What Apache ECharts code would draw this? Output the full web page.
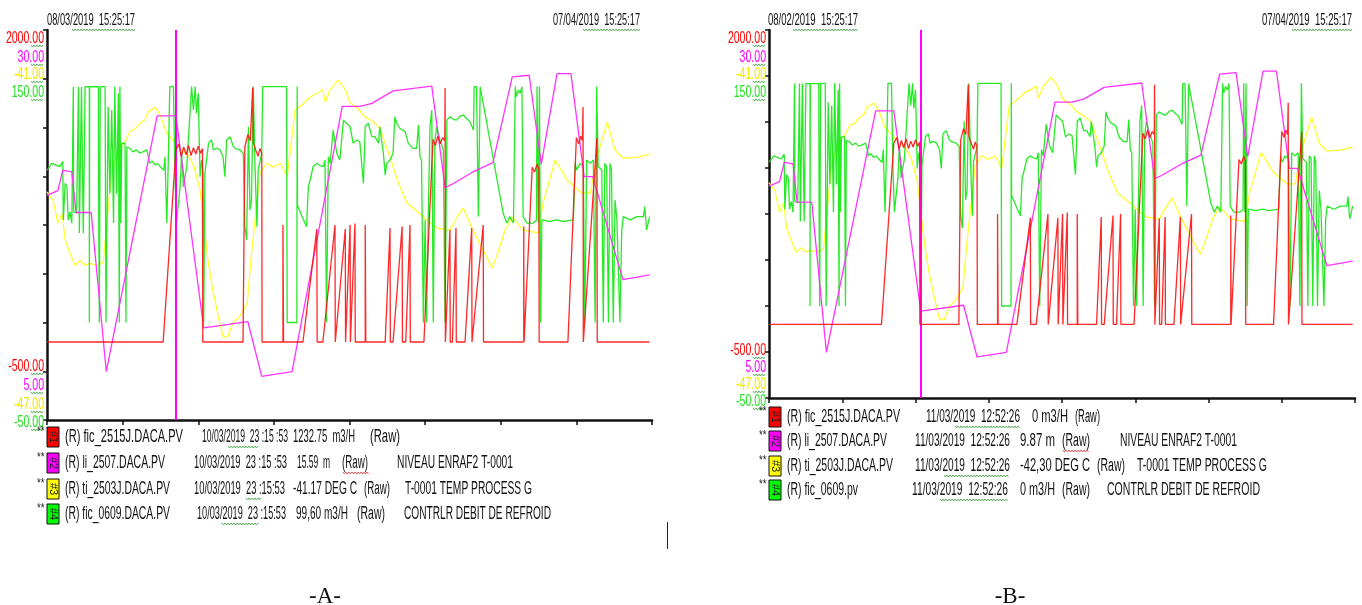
<!DOCTYPE html>
<html>
<head>
<meta charset="utf-8">
<script src="https://cdn.jsdelivr.net/npm/echarts@6.0.0/dist/echarts.min.js"></script>
<style>
  html, body { margin: 0; padding: 0; background: #ffffff; }
  #chart { width: 1362px; height: 605px; }
</style>
</head>
<body>
<div id="chart"></div>
<script>
// ---- Trend recorder data (x = % of the 30-day window, y in engineering units) ----

// scale limits of each pen (red, magenta, yellow, green)
const scaleMin = [-500, 5, -47, -50];
const scaleMax = [2000, 30, -41, 150];
const scaleTopLabels = ['2000.00', '30.00', '-41.00', '150.00'];
const scaleBottomLabels = ['-500.00', '5.00', '-47.00', '-50.00'];

// window start / end stamps
const windowA = ['08/03/2019  15:25:17', '07/04/2019  15:25:17'];
const windowB = ['08/02/2019  15:25:17', '07/04/2019  15:25:17'];

// cursor positions (% of window)
const cursorA = 21.3;
const cursorB = 25.9;

// #1 fic_2515J.DACA.PV  (m3/H)
const fic2515 = [
  [0,0],[19.2,0],[21.3,1232],[21.8,1270],[22.2,1190],[22.6,1250],[23.0,1200],[23.4,1260],[23.8,1195],
  [24.2,1245],[24.6,1205],[25.0,1255],[25.4,1210],[25.7,1240],[25.75,0],
  [32.4,0],[32.7,1250],[33.2,1330],[33.6,1290],[34.0,1630],[34.1,1280],[34.5,1230],[34.9,1190],
  [35.2,1240],[35.5,1210],[35.55,0],
  [39.0,0],[39.0,750],[39.1,0],
  [42.3,0],[44.6,724],[44.65,0],[45.6,0],[47.6,750],[47.65,0],[47.9,0],[49.3,724],[49.35,0],
  [49.6,0],[50.1,750],[50.15,0],[50.3,0],[50.9,760],[50.95,0],
  [52.6,0],[52.6,750],[52.7,0],
  [55.9,0],[56.7,730],[56.75,0],[57.2,0],[58.7,740],[58.75,0],[59.3,0],[60.0,750],[60.05,0],
  [62.3,0],[63.8,1300],[64.2,1260],[64.6,1320],[65.0,1270],[65.4,1310],[65.75,1290],[65.8,1628],[65.85,0],
  [66.6,720],[66.65,0],[67.0,0],[67.6,730],[67.65,0],[69.1,0],[70.2,730],[70.25,0],[70.4,0],[72.1,750],[72.15,0],
  [78.8,0],[78.8,740],[78.85,0],[79.1,0],[80.2,1120],[80.6,1090],[81.0,1140],[81.3,1110],[81.35,0],
  [86.1,0],[87.5,1310],[87.9,1270],[88.2,1320],[88.5,1290],[88.6,1506],[88.65,0],[90.9,1308],[90.95,0],[99.6,0]
];

// #2 li_2507.DACA.PV  (m)
const li2507 = [
  [0,19.4],[1.8,19.7],[2.6,21.0],[4.1,20.9],[4.8,18.3],[7.3,18.3],[9.8,8.1],[18.2,24.5],[21.3,24.5],
  [25.9,10.9],[33.2,11.3],[35.5,7.8],[40.5,8.1],[48.8,25.1],[51.7,25.1],[53.7,25.3],[57.2,26.1],
  [63.6,26.4],[65.8,19.9],[66.9,20.1],[70.4,20.9],[73.7,21.5],[76.9,27.0],[79.7,27.1],[81.7,21.4],
  [84.3,27.2],[86.6,27.2],[88.8,20.6],[90.2,20.6],[95.2,14.0],[99.6,14.3]
];

// #3 ti_2503J.DACA.PV  (DEG C)
const ti2503 = [
  [0,-43.49],[1.0,-43.62],[1.8,-43.97],[2.5,-43.82],[3.0,-44.23],[3.8,-44.43],[4.6,-44.62],[5.5,-44.55],
  [6.3,-44.62],[7.1,-44.59],[8.2,-44.62],[9.3,-44.57],[10.7,-43.15],[12.1,-42.80],[13.0,-42.70],
  [13.8,-42.55],[14.6,-42.52],[15.4,-42.43],[16.2,-42.38],[16.7,-42.26],[17.9,-42.19],[18.7,-42.31],
  [19.8,-42.59],[21.5,-42.77],[22.5,-42.85],[23.5,-42.95],[24.3,-43.10],[25.3,-43.46],[26.6,-44.54],
  [27.4,-45.00],[28.3,-45.40],[29.1,-45.72],[29.9,-45.72],[30.7,-45.51],[31.9,-45.40],[33.1,-45.20],
  [33.7,-44.54],[35.2,-43.20],[36.3,-43.05],[37.4,-43.11],[38.6,-43.05],[39.7,-43.26],[41.0,-42.23],
  [42.2,-42.15],[43.5,-42.03],[44.5,-41.98],[45.6,-41.92],[46.0,-42.11],[46.8,-41.92],[48.1,-41.77],
  [49.3,-41.92],[50.1,-42.12],[51.3,-42.20],[52.6,-42.34],[53.8,-42.40],[55.0,-42.51],[56.7,-42.96],
  [57.9,-43.31],[59.5,-43.66],[61.7,-43.83],[63.3,-43.97],[64.5,-44.05],[66.6,-44.08],[67.8,-43.88],
  [68.8,-43.74],[70.4,-44.08],[72.1,-44.39],[73.6,-44.66],[74.5,-44.43],[75.7,-44.08],[76.9,-43.88],
  [78.7,-44.08],[81.2,-44.12],[82.0,-43.66],[84.0,-43.00],[86.0,-43.31],[88.4,-43.51],[89.8,-43.51],
  [90.9,-42.96],[92.6,-42.42],[93.9,-42.85],[95.2,-42.97],[97.5,-42.96],[99.6,-42.91]
];

// #4 fic_0609.DACA.PV  (m3/H)
const fic0609 = [
  [0,78],[0.8,81.6],[2.1,79.9],[2.6,82.5],[2.7,52.6],[3.0,71.4],[3.3,69.6],[3.5,52.6],[3.8,56.8],[4.1,50.9],
  [4.35,120.9],[4.4,56.8],[4.9,56.1],[5.2,120.9],[5.35,45.9],[5.7,120.9],[6.0,45.9],[6.3,120.9],[7.0,120.9],
  [7.0,0],[7.05,120.9],[8.5,120.9],[8.55,56],[8.65,0],[8.8,121],[9.6,121],[9.75,0],[10.1,110.7],[10.4,66.3],
  [10.7,109],[11.0,51],[11.2,121],[11.5,66],[11.8,117.5],[11.95,0],[12.05,121],[12.2,51],[12.35,91.9],
  [12.9,92],[13.05,0],[13.2,90],[13.7,89.3],[14.2,87.5],[14.8,88.5],[15.3,86.9],[15.9,87.6],[16.5,88.5],
  [17.0,81.6],[17.4,82.8],[17.85,80.8],[18.3,81.5],[18.7,80],[19.3,78],[19.5,85],[19.8,51],[20.05,83.3],
  [20.3,121],[20.9,121],[21.15,74.8],[21.4,51],[22.0,69.6],[22.25,86.8],[22.55,69.6],[23.1,80],[23.9,121],
  [24.2,109],[24.5,121],[24.7,107.3],[25.0,117.5],[25.3,74.8],[25.55,83.3],[25.8,76.5],[25.9,0],[26.1,76.5],
  [26.7,92],[27.2,93.6],[27.5,88.5],[28.0,89.5],[28.6,88.5],[29.1,85],[29.4,74.8],[29.7,93.6],[30.25,95.3],
  [30.8,90.2],[31.3,89.0],[31.9,88.5],[32.45,86.8],[32.7,49.1],[33.0,42.3],[33.3,100.4],[33.55,57.7],
  [33.8,62.8],[34.1,121],[34.4,78.2],[34.7,49.1],[34.9,78.2],[35.5,86.8],[35.65,121],[39.6,121],[39.7,0],
  [41.3,0],[41.35,121],[41.4,60],[41.55,59.4],[42.4,52.6],[42.9,49.1],[43.2,69.6],[43.5,73.1],[44.0,80],
  [44.6,81.6],[45.2,80.4],[45.7,80],[45.95,83.3],[46.2,0],[46.5,85],[46.8,81.6],[47.3,98.7],[47.9,86.8],
  [48.4,83.3],[49.0,103.8],[49.5,102.2],[50.1,100.4],[50.6,92],[51.2,93.5],[51.7,92.7],[52.3,71.4],
  [52.6,100.4],[53.1,102.2],[53.7,95.3],[54.2,95.3],[54.8,92],[55.0,100.4],[55.6,86.8],[55.9,75.6],
  [56.15,81.6],[56.7,83.3],[57.2,86.8],[57.5,105.5],[57.8,102.2],[58.3,99.6],[59.2,97.9],[59.7,92],
  [60.0,92],[60.5,89.3],[61.1,89.3],[61.4,101.3],[61.65,85],[61.9,83.3],[62.2,0],[62.5,52.6],[62.75,0],
  [63.0,51],[63.3,100.4],[63.6,109],[63.85,0],[64.1,92],[64.4,100.4],[64.95,93.6],[65.5,88.5],[65.8,0],
  [66.1,103.8],[66.6,105.5],[67.2,104.2],[67.7,103.8],[68.3,105.8],[68.8,106.4],[69.4,104.5],[69.9,103],
  [70.5,98.7],[70.6,120.9],[71.0,120.9],[71.3,54.3],[71.6,120.9],[71.85,120.9],[75.4,56],[76.0,51],
  [76.5,54.3],[77.1,51],[77.4,121],[77.6,115.8],[77.9,119.2],[78.2,117.5],[78.5,121],[78.7,54.3],
  [79.3,51],[80.4,51],[80.9,52.6],[81.0,121],[81.2,51],[81.4,121],[81.6,0],[81.8,52.6],[83.1,51.8],
  [84.2,52.6],[85.3,51.8],[87.0,52.6],[87.3,81.6],[87.55,78.2],[88.1,81.6],[88.65,80],[88.9,0],[89.2,83.3],
  [89.75,81.6],[90.3,83.3],[90.6,0],[90.85,121],[91.1,80],[91.7,78.2],[91.95,0],[92.2,81.6],[92.5,80],
  [92.8,0],[93.05,81.6],[93.3,78.2],[93.6,0],[93.9,62.8],[94.2,52.6],[94.7,0],[95.0,47.4],[95.25,54.3],
  [96.4,52.6],[97.5,54.3],[98.6,54.3],[98.8,59.4],[99.1,47.4],[99.6,54.3]
];

// legend rows
const penTags = ['#1', '#2', '#3', '#4'];
const tagsA = ['(R) fic_2515J.DACA.PV', '(R) li_2507.DACA.PV', '(R) ti_2503J.DACA.PV', '(R) fic_0609.DACA.PV'];
const tagsB = ['(R) fic_2515J.DACA.PV', '(R) li_2507.DACA.PV', '(R) ti_2503J.DACA.PV', '(R) fic_0609.pv'];
const stampsA = ['10/03/2019  23 :15 :53', '10/03/2019  23 :15 :53', '10/03/2019  23 :15:53', '10/03/2019  23 :15:53'];
const stampsB = ['11/03/2019  12:52:26', '11/03/2019  12:52:26', '11/03/2019  12:52:26', '11/03/2019  12:52:26'];
const readingsA = ['1232.75  m3/H', '15.59  m', '-41.17 DEG C', '99,60 m3/H'];
const readingsB = ['0 m3/H', '9.87 m', '-42,30 DEG C', '0 m3/H'];
const descriptions = ['', 'NIVEAU ENRAF2 T-0001', 'T-0001 TEMP PROCESS G', 'CONTRLR DEBIT DE REFROID'];
const captions = ['-A-', '-B-'];

// ---- styling / layout ----
const penColors = ['#ff1010', '#ff33ff', '#ffff30', '#10e810'];
const penOpacity = [0.9, 1, 1, 0.9];
const labelColors = ['#ff0000', '#ff00ff', '#f2e600', '#22e022'];
const boxColors = ['#ff0000', '#ff00ff', '#ffff00', '#00ff00'];
const penZ = [5, 4, 2, 3];
const SANS = "'Liberation Sans',Arial,sans-serif";
const SERIF = "'Liberation Serif','DejaVu Serif',serif";

const panels = [
  {
    left: 47, top: 30, width: 605, height: 390, cursor: cursorA, window: windowA,
    windowSpan: [[47, 135], [553, 640]],
    tags: tagsA, stamps: stampsA, readings: readingsA,
    rowsY: [437, 463, 489, 514],
    // [tag, stamp, reading, raw, description] as [start, end] in px
    cols: [
      [[65, 183], [202, 288], [293, 355], [370, 400], null],
      [[65, 165], [194, 287], [297, 330], [342, 368], [397, 513]],
      [[65, 170], [194, 285], [293, 357], [364, 390], [405, 532]],
      [[65, 170], [197, 286], [296, 348], [357, 385], [404, 551]]
    ],
    topLabelY: [38, 57, 74, 92], bottomLabelY: [366, 385, 404, 422],
    stampWave: [[228, 258], null, [246, 262], [222, 258]], rawWave: [null, [343, 369], null, null],
    caption: 325
  },
  {
    left: 769, top: 30, width: 586, height: 368, cursor: cursorB, window: windowB,
    windowSpan: [[768, 858], [1262, 1352]],
    tags: tagsB, stamps: stampsB, readings: readingsB,
    rowsY: [417, 441, 466, 490],
    cols: [
      [[787, 900], [926, 1020], [1032, 1068], [1075, 1100], null],
      [[787, 887], [915, 1010], [1020, 1055], [1062, 1090], [1120, 1237]],
      [[787, 893], [915, 1010], [1020, 1090], [1097, 1125], [1137, 1267]],
      [[787, 858], [912, 1008], [1020, 1055], [1062, 1090], [1107, 1260]]
    ],
    topLabelY: [38, 57, 74, 92], bottomLabelY: [350, 367, 384, 401],
    stampWave: [[955, 1020], null, [944, 1009], [940, 1008]], rawWave: [null, [1063, 1089], null, null],
    caption: 1010
  }
];

const traces = [fic2515, li2507, ti2503, fic0609];

// horizontal squeeze so a string spans a given width (narrow recorder font)
const measureCtx = document.createElement('canvas').getContext('2d');
function squeezeFor(str, font, width) {
  measureCtx.font = font;
  const w = measureCtx.measureText(str).width;
  return w > 0 ? width / w : 1;
}

function text(x, y, str, color, opts) {
  opts = opts || {};
  const font = (opts.size || 16) + 'px ' + (opts.family || SANS);
  let sx = opts.sx || 1;
  if (opts.span) sx = squeezeFor(str, font, opts.span);
  return {
    type: 'text', x: x, y: y, z: 100, silent: true,
    rotation: opts.rotation || 0, scaleX: sx,
    style: {
      text: str, fill: color, font: font,
      textAlign: opts.align || 'left', textVerticalAlign: 'middle', verticalAlign: 'middle'
    }
  };
}

function wave(x1, x2, y, color) {
  const pts = [];
  for (let x = x1, i = 0; x <= x2; x += 1.5, i++) pts.push([x, y + (i % 2 ? 1 : -1)]);
  return { type: 'polyline', z: 99, silent: true, shape: { points: pts }, style: { stroke: color, lineWidth: 0.8, fill: null } };
}

const grids = [], xAxes = [], yAxes = [], series = [], graphics = [];

panels.forEach((p, i) => {
  grids.push({ left: p.left, top: p.top, width: p.width, height: p.height, containLabel: false, outerBoundsMode: 'none' });
  xAxes.push({
    type: 'value', gridIndex: i, min: 0, max: 100, interval: 12.5,
    axisLine: { show: true, onZero: false, lineStyle: { color: '#111', width: 2.5 } },
    axisTick: { show: true, inside: false, length: 5, lineStyle: { color: '#111', width: 1.5 } },
    axisLabel: { show: false }, splitLine: { show: false }
  });
  // frame axis carrying the vertical tick marks
  yAxes.push({
    type: 'value', gridIndex: i, min: 0, max: 8, interval: 1,
    axisLine: { show: true, onZero: false, lineStyle: { color: '#111', width: 2.5 } },
    axisTick: { show: true, inside: false, length: 4, lineStyle: { color: '#111', width: 1.5 } },
    axisLabel: { show: false }, splitLine: { show: false }
  });
  // one hidden scale per pen
  scaleMin.forEach((mn, k) => {
    yAxes.push({ type: 'value', gridIndex: i, min: mn, max: scaleMax[k], show: false, splitLine: { show: false } });
  });
  traces.forEach((data, k) => {
    const s = {
      type: 'line', xAxisIndex: i, yAxisIndex: i * 5 + 1 + k, data: data,
      symbol: 'none', silent: true, animation: false, z: penZ[k],
      lineStyle: { color: penColors[k], width: 1.3, opacity: penOpacity[k] }
    };
    if (k === 0) {
      s.markLine = {
        symbol: 'none', silent: true, animation: false, label: { show: false },
        lineStyle: { color: '#ff00ff', width: 2, type: 'solid', opacity: 1 },
        data: [{ xAxis: p.cursor }]
      };
    }
    series.push(s);
  });

  // window stamps
  graphics.push(text(p.windowSpan[0][0], 20, p.window[0], '#111', { size: 17, span: p.windowSpan[0][1] - p.windowSpan[0][0] }));
  graphics.push(text(p.windowSpan[1][0], 20, p.window[1], '#111', { size: 17, span: p.windowSpan[1][1] - p.windowSpan[1][0] }));
  graphics.push(wave(p.windowSpan[0][0] + 25, p.windowSpan[0][1], 30, '#3aa03a'));
  graphics.push(wave(p.windowSpan[1][0] + 30, p.windowSpan[1][1], 30, '#3aa03a'));

  // stacked scale labels
  const lx = p.left - 3;
  scaleTopLabels.forEach((s, k) => {
    graphics.push(text(lx, p.topLabelY[k], s, labelColors[k], { size: 17, sx: 0.62, align: 'right' }));
    graphics.push(wave(lx - 13, lx - 1, p.topLabelY[k] + 8, '#3aa03a'));
  });
  scaleBottomLabels.forEach((s, k) => {
    graphics.push(text(lx, p.bottomLabelY[k], s, labelColors[k], { size: 17, sx: 0.62, align: 'right' }));
    graphics.push(wave(lx - 13, lx - 1, p.bottomLabelY[k] + 8, '#3aa03a'));
  });

  // pen legend
  const rowTexts = (k) => [p.tags[k], p.stamps[k], p.readings[k], '(Raw)', descriptions[k]];
  p.rowsY.forEach((y, k) => {
    graphics.push(text(p.left - 10, y - 5, '**', '#222', { size: 12, sx: 0.8 }));
    graphics.push({ type: 'rect', z: 99, silent: true, shape: { x: p.left, y: y - 10, width: 12, height: 20 },
      style: { fill: boxColors[k], stroke: '#111', lineWidth: 1 } });
    graphics.push(text(p.left + 6, y, penTags[k], '#222', { size: 11, align: 'center', rotation: -Math.PI / 2 }));
    const strs = rowTexts(k);
    p.cols[k].forEach((c, j) => {
      if (c && strs[j]) graphics.push(text(c[0], y, strs[j], '#111', { size: 18, span: c[1] - c[0] }));
    });
    if (p.stampWave[k]) graphics.push(wave(p.stampWave[k][0], p.stampWave[k][1], y + 10, '#3aa03a'));
    if (p.rawWave[k]) graphics.push(wave(p.rawWave[k][0], p.rawWave[k][1], y + 10, '#e03030'));
  });

  graphics.push(text(p.caption, 597, captions[i], '#111', { size: 23, align: 'center', family: SERIF }));
});

// text cursor mark left on the page
graphics.push({ type: 'line', z: 99, silent: true, shape: { x1: 667.5, y1: 522, x2: 667.5, y2: 549 }, style: { stroke: '#222', lineWidth: 1 } });

const chart = echarts.init(document.getElementById('chart'), null, { renderer: 'canvas' });
chart.setOption({
  animation: false,
  backgroundColor: '#ffffff',
  grid: grids,
  xAxis: xAxes,
  yAxis: yAxes,
  series: series,
  graphic: { elements: graphics }
});
</script>
</body>
</html>
